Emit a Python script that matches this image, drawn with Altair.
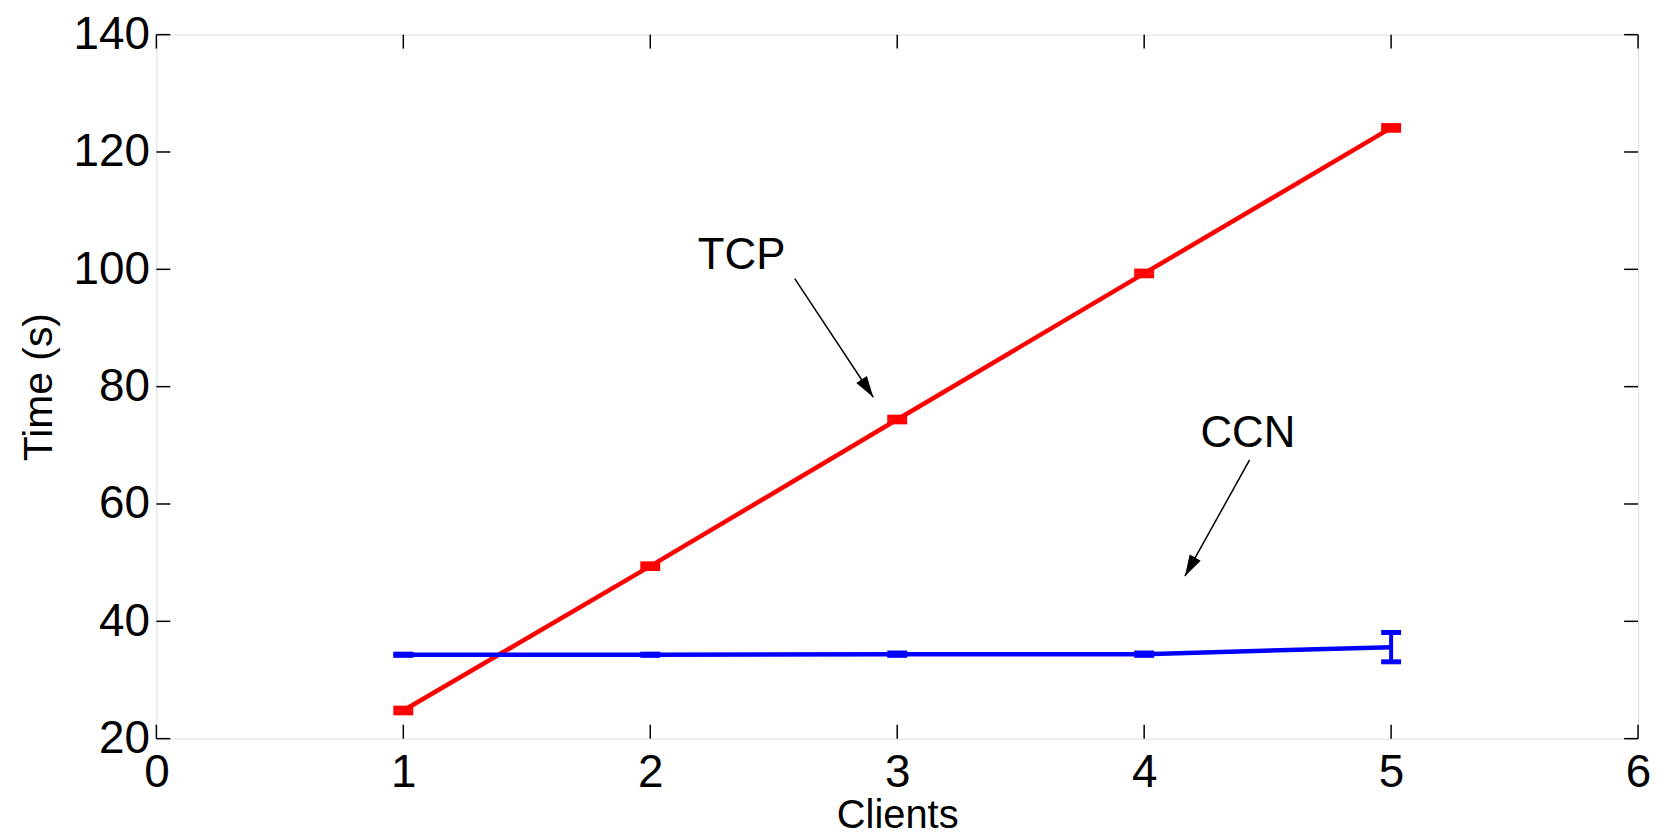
import math
import altair as alt
import pandas as pd

# ---- data ----
clients = [1, 2, 3, 4, 5]
tcp_mean = [24.8, 49.4, 74.4, 99.3, 124.1]
tcp_low = [24.4, 49.0, 74.0, 98.9, 123.7]
tcp_high = [25.2, 49.8, 74.8, 99.7, 124.5]
ccn_mean = [34.3, 34.3, 34.4, 34.4, 35.6]
ccn_low = [34.2, 34.2, 34.2, 34.2, 33.1]
ccn_high = [34.4, 34.4, 34.6, 34.6, 38.1]

x_ticks = [0, 1, 2, 3, 4, 5, 6]
y_ticks = [20, 40, 60, 80, 100, 120, 140]

ann_labels = ["TCP", "CCN"]
ann_text_x = [2.37, 4.42]
ann_text_y = [100.1, 69.7]
arrow_x0 = [2.585, 4.427]
arrow_y0 = [98.4, 67.5]
arrow_x1 = [2.903, 4.165]
arrow_y1 = [78.2, 47.7]

# ---- layout ----
W, H = 1488, 707
XMIN, XMAX = 0, 6
YMIN, YMAX = 20, 140
px_per_x = W / (XMAX - XMIN)
px_per_y = H / (YMAX - YMIN)
FONT = "Liberation Sans"

rows = []
for name, m, lo, hi in [("TCP", tcp_mean, tcp_low, tcp_high), ("CCN", ccn_mean, ccn_low, ccn_high)]:
    for c, a, b, d in zip(clients, m, lo, hi):
        rows.append({"series": name, "clients": c, "time": a, "low": b, "high": d})
df = pd.DataFrame(rows)

angles = []
for a, b, c, d in zip(arrow_x0, arrow_y0, arrow_x1, arrow_y1):
    dx = (c - a) * px_per_x
    dy = -(d - b) * px_per_y
    ang = math.degrees(math.atan2(dx, -dy)) % 360
    angles.append(ang)
ann = pd.DataFrame({"label": ann_labels, "tx": ann_text_x, "ty": ann_text_y,
                    "x0": arrow_x0, "y0": arrow_y0, "x1": arrow_x1, "y1": arrow_y1,
                    "angle": angles})

xs = alt.Scale(domain=[XMIN, XMAX], nice=False, zero=False)
ys = alt.Scale(domain=[YMIN, YMAX], nice=False, zero=False)
color = alt.Color("series:N", scale=alt.Scale(domain=["TCP", "CCN"], range=["#ff0000", "#0000ff"]), legend=None)

base = alt.Chart(df)

lines = base.mark_line(strokeWidth=4.5, clip=True).encode(
    x=alt.X("clients:Q", scale=xs,
            axis=alt.Axis(values=x_ticks, format="d", title="Clients", labelFontSize=46, labelFont=FONT,
                          labelColor="black", labelPadding=12, domain=False, ticks=False, grid=False,
                          titleFontSize=40, titleFont=FONT, titleFontWeight="normal", titleColor="black",
                          titleBaseline="alphabetic", titleY=89, labelFlush=False)),
    y=alt.Y("time:Q", scale=ys,
            axis=alt.Axis(values=y_ticks, format="d", title="Time (s)", labelFontSize=46, labelFont=FONT,
                          labelColor="black", labelPadding=7, domain=False, ticks=False, grid=False,
                          titleFontSize=41, titleFont=FONT, titleFontWeight="normal", titleColor="black",
                          titleAngle=-90, titleBaseline="alphabetic", titleAlign="center",
                          titleX=-105, titleY=H / 2, labelFlush=False)),
    color=color,
    detail="series:N",
)

err_rule = base.mark_rule(strokeWidth=4).encode(
    x="clients:Q", y="low:Q", y2="high:Q", color=color)
cap_lo = base.mark_tick(orient="horizontal", size=20, thickness=5, opacity=1).encode(
    x="clients:Q", y="low:Q", color=color)
cap_hi = base.mark_tick(orient="horizontal", size=20, thickness=5, opacity=1).encode(
    x="clients:Q", y="high:Q", color=color)

# inward tick marks on all four sides
tx = pd.DataFrame({"v": x_ticks})
ty = pd.DataFrame({"v": y_ticks})
TL = 14
tick_b = alt.Chart(tx).mark_rule(color="black", strokeWidth=1.5).encode(
    x=alt.X("v:Q", scale=xs), y=alt.value(H), y2=alt.value(H - TL))
tick_t = alt.Chart(tx).mark_rule(color="black", strokeWidth=1.5).encode(
    x=alt.X("v:Q", scale=xs), y=alt.value(0), y2=alt.value(TL))
tick_l = alt.Chart(ty).mark_rule(color="black", strokeWidth=1.5).encode(
    y=alt.Y("v:Q", scale=ys), x=alt.value(0), x2=alt.value(TL))
tick_r = alt.Chart(ty).mark_rule(color="black", strokeWidth=1.5).encode(
    y=alt.Y("v:Q", scale=ys), x=alt.value(W), x2=alt.value(W - TL))

annb = alt.Chart(ann)
arrow_line = annb.mark_rule(color="black", strokeWidth=1.5).encode(
    x="x0:Q", y="y0:Q", x2="x1:Q", y2="y1:Q")
arrow_head = annb.mark_point(shape="M0,0 L-0.3,1 L0.3,1 Z", filled=True, color="black",
                             opacity=1, size=1800).encode(
    x="x1:Q", y="y1:Q", angle=alt.Angle("angle:Q", scale=None))
texts = annb.mark_text(font=FONT, fontSize=44, color="black", baseline="alphabetic", align="center").encode(
    x="tx:Q", y="ty:Q", text="label:N")

chart = alt.layer(
    tick_b, tick_t, tick_l, tick_r,
    lines, err_rule, cap_lo, cap_hi,
    arrow_line, arrow_head, texts,
).properties(
    width=W, height=H,
    autosize=alt.AutoSizeParams(type="none"),
    padding={"left": 149, "top": 25, "right": 14, "bottom": 98},
).configure_view(
    stroke="#4d4d4d", strokeWidth=2
).configure(background="white")

chart.save("out.html", embed_options={"renderer": "svg", "actions": False})
